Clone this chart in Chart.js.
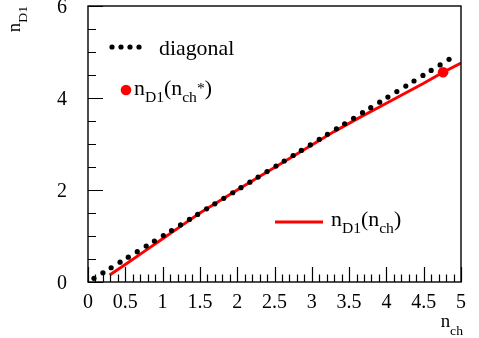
<!DOCTYPE html>
<html>
<head>
<meta charset="utf-8">
<script src="https://cdn.jsdelivr.net/npm/chart.js@4"></script>
<style>
  html, body { margin: 0; padding: 0; background: #ffffff; }
  canvas { display: block; }
</style>
</head>
<body>
<canvas id="c" width="479" height="338"></canvas>
<script>
// Diagonal reference points (n_D1 = n_ch)
const diagX = [0.08, 0.20, 0.31, 0.43, 0.54, 0.66, 0.78, 0.89, 1.01, 1.12, 1.24, 1.36, 1.47, 1.59,
               1.70, 1.82, 1.94, 2.05, 2.17, 2.28, 2.40, 2.52, 2.63, 2.75, 2.86, 2.98, 3.10, 3.21,
               3.33, 3.44, 3.56, 3.68, 3.79, 3.91, 4.02, 4.14, 4.26, 4.37, 4.49, 4.60, 4.72, 4.84];
const diagY = [0.08, 0.20, 0.31, 0.43, 0.54, 0.66, 0.78, 0.89, 1.01, 1.12, 1.24, 1.36, 1.47, 1.59,
               1.70, 1.82, 1.94, 2.05, 2.17, 2.28, 2.40, 2.52, 2.63, 2.75, 2.86, 2.98, 3.10, 3.21,
               3.33, 3.44, 3.56, 3.68, 3.79, 3.91, 4.02, 4.14, 4.26, 4.37, 4.49, 4.60, 4.72, 4.84];

// n_D1 as a function of n_ch
const curveX = [0.29, 0.50, 0.75, 1.00, 1.25, 1.50, 2.00, 2.50, 3.00, 3.30, 3.60, 3.90, 4.20, 4.50, 4.76, 5.00];
const curveY = [0.15, 0.38, 0.66, 0.94, 1.22, 1.50, 2.00, 2.49, 2.98, 3.27, 3.54, 3.80, 4.06, 4.32, 4.56, 4.76];

// Working point n_D1(n_ch*)
const starX = [4.76];
const starY = [4.56];

const xTicks = [0, 0.5, 1, 1.5, 2, 2.5, 3, 3.5, 4, 4.5, 5];
const yTicks = [0, 2, 4, 6];

const FONT = "'Liberation Serif', 'DejaVu Serif', serif";
const RED = '#ff0000';

Chart.defaults.font.family = FONT;
Chart.defaults.color = '#000';

const pts = (xs, ys) => xs.map((x, i) => ({ x: x, y: ys[i] }));

// Draws a run of text pieces (main text, subscripts, superscripts) left to right
function richWidth(ctx, runs, sx) {
  let w = 0;
  for (const r of runs) { ctx.font = r.size + 'px ' + FONT; w += ctx.measureText(r.t).width * sx; }
  return w;
}
function drawRich(ctx, x, y, runs, sx) {
  let cx = x;
  ctx.textAlign = 'left';
  ctx.textBaseline = 'alphabetic';
  ctx.fillStyle = '#000';
  for (const r of runs) {
    ctx.font = r.size + 'px ' + FONT;
    const w = ctx.measureText(r.t).width;
    ctx.save();
    ctx.translate(cx, y + (r.dy || 0));
    ctx.scale(sx, 1);
    ctx.fillText(r.t, 0, 0);
    ctx.restore();
    cx += w * sx;
  }
  return cx - x;
}

const framePlugin = {
  id: 'frame',
  afterDatasetsDraw(chart) {
    const ctx = chart.ctx;
    const a = chart.chartArea;
    const xs = chart.scales.x, ys = chart.scales.y;
    ctx.save();
    ctx.strokeStyle = '#000';
    ctx.lineWidth = 1.4;
    ctx.strokeRect(a.left, a.top, a.right - a.left, a.bottom - a.top);

    ctx.lineWidth = 1.2;
    ctx.beginPath();
    // x ticks: majors every 0.5, minors every 0.1 (drawn inside the frame)
    for (let i = 0; i <= 50; i++) {
      const v = i / 10;
      const px = Math.round(xs.getPixelForValue(v)) + 0.5;
      const len = (i % 5 === 0) ? 15 : 7.5;
      ctx.moveTo(px, a.bottom);
      ctx.lineTo(px, a.bottom - len);
    }
    // y ticks: majors every 2, minors every 0.5
    for (let i = 0; i <= 12; i++) {
      const v = i / 2;
      const py = Math.round(ys.getPixelForValue(v)) + 0.5;
      const len = (i % 4 === 0) ? 15 : 8;
      ctx.moveTo(a.left, py);
      ctx.lineTo(a.left + len, py);
    }
    ctx.stroke();
    ctx.restore();
  },
  afterDraw(chart) {
    const ctx = chart.ctx;
    const a = chart.chartArea;
    ctx.save();

    // axis titles
    const xt = [{ t: 'n', size: 18 }, { t: 'ch', size: 13, dy: 8 }];
    const xw = richWidth(ctx, xt, 1.05);
    drawRich(ctx, a.right + 2 - xw, 327, xt, 1.05);

    const yt = [{ t: 'n', size: 18 }, { t: 'D1', size: 13, dy: 7 }];
    const yw = richWidth(ctx, yt, 1.05);
    ctx.save();
    ctx.translate(20, a.top + yw);
    ctx.rotate(-Math.PI / 2);
    drawRich(ctx, 0, 0, yt, 1.05);
    ctx.restore();

    // legend: diagonal
    ctx.fillStyle = '#000';
    for (const lx of [112, 121, 130, 139]) {
      ctx.beginPath(); ctx.arc(lx, 47, 2.6, 0, Math.PI * 2); ctx.fill();
    }
    drawRich(ctx, 159, 55, [{ t: 'diagonal', size: 21 }], 1.04);

    // legend: working point
    ctx.fillStyle = RED;
    ctx.beginPath(); ctx.arc(126, 90, 5.3, 0, Math.PI * 2); ctx.fill();
    drawRich(ctx, 134, 95, [
      { t: 'n', size: 21 }, { t: 'D1', size: 15, dy: 6.5 },
      { t: '(n', size: 21 }, { t: 'ch', size: 15, dy: 6.5 },
      { t: '*', size: 15, dy: -2 }, { t: ')', size: 21 }
    ], 1.04);

    // legend: curve
    ctx.strokeStyle = RED;
    ctx.lineWidth = 3;
    ctx.beginPath(); ctx.moveTo(275, 222); ctx.lineTo(323, 222); ctx.stroke();
    drawRich(ctx, 331, 226, [
      { t: 'n', size: 21 }, { t: 'D1', size: 15, dy: 6.5 },
      { t: '(n', size: 21 }, { t: 'ch', size: 15, dy: 6.5 },
      { t: ')', size: 21 }
    ], 1.04);

    ctx.restore();
  }
};

new Chart(document.getElementById('c'), {
  type: 'scatter',
  data: {
    datasets: [
      {
        label: 'n_D1(n_ch*)',
        data: pts(starX, starY),
        pointRadius: 5.3,
        pointBackgroundColor: RED,
        pointBorderWidth: 0,
        showLine: false,
        order: 0
      },
      {
        label: 'diagonal',
        data: pts(diagX, diagY),
        pointRadius: 2.6,
        pointBackgroundColor: '#000',
        pointBorderWidth: 0,
        showLine: false,
        order: 1
      },
      {
        label: 'n_D1(n_ch)',
        data: pts(curveX, curveY),
        showLine: true,
        borderColor: RED,
        borderWidth: 3,
        pointRadius: 0,
        tension: 0,
        order: 2
      }
    ]
  },
  options: {
    responsive: false,
    animation: false,
    devicePixelRatio: 1,
    layout: { padding: { left: 0, top: 6, right: 18, bottom: 0 } },
    plugins: { legend: { display: false }, tooltip: { enabled: false } },
    scales: {
      x: {
        type: 'linear', min: 0, max: 5,
        grid: { display: false, drawTicks: false },
        border: { display: false },
        afterBuildTicks: s => { s.ticks = xTicks.map(v => ({ value: v })); },
        afterFit: s => { s.height = 56; s.paddingLeft = 0; s.paddingRight = 0; },
        ticks: {
          autoSkip: false, maxRotation: 0, padding: 9,
          color: '#000', font: { family: FONT, size: 20 },
          callback: v => String(v)
        }
      },
      y: {
        type: 'linear', min: 0, max: 6,
        grid: { display: false, drawTicks: false },
        border: { display: false },
        afterBuildTicks: s => { s.ticks = yTicks.map(v => ({ value: v })); },
        afterFit: s => { s.width = 88; s.paddingTop = 0; s.paddingBottom = 0; },
        ticks: {
          autoSkip: false, padding: 21, labelOffset: 2,
          color: '#000', font: { family: FONT, size: 20 },
          callback: v => String(v)
        }
      }
    }
  },
  plugins: [framePlugin]
});
</script>
</body>
</html>
